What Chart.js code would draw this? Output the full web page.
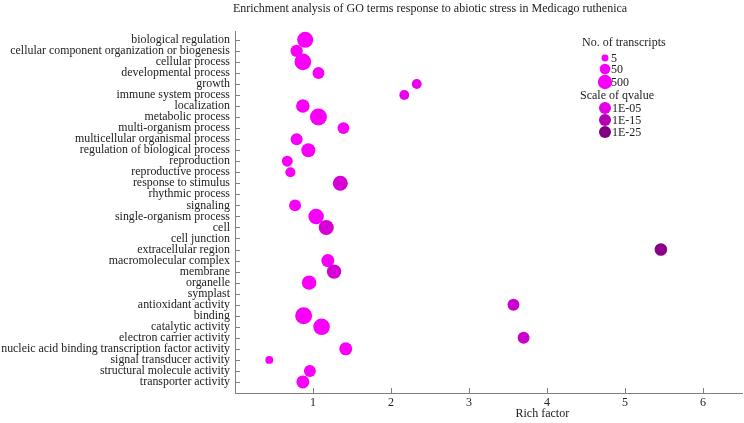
<!DOCTYPE html>
<html>
<head>
<meta charset="utf-8">
<script src="https://cdn.jsdelivr.net/npm/chart.js@4"></script>
<style>
  html, body { margin: 0; padding: 0; background: #fff; }
  #wrap { width: 744px; height: 423px; }
</style>
</head>
<body>
<div id="wrap"><canvas id="chart" width="744" height="423"></canvas></div>
<script>
'use strict';

// GO terms, top to bottom
const CATEGORIES = [
  'biological regulation', 'cellular component organization or biogenesis', 'cellular process',
  'developmental process', 'growth', 'immune system process', 'localization', 'metabolic process',
  'multi-organism process', 'multicellular organismal process', 'regulation of biological process',
  'reproduction', 'reproductive process', 'response to stimulus', 'rhythmic process', 'signaling',
  'single-organism process', 'cell', 'cell junction', 'extracellular region', 'macromolecular complex',
  'membrane', 'organelle', 'symplast', 'antioxidant activity', 'binding', 'catalytic activity',
  'electron carrier activity', 'nucleic acid binding transcription factor activity',
  'signal transducer activity', 'structural molecule activity', 'transporter activity',
];

// null = term has no point
const RICH_FACTOR = [
  0.90, 0.79, 0.87, 1.07, 2.33, 2.17, 0.87, 1.07,
  1.39, 0.79, 0.94, 0.67, 0.71, 1.35, null, 0.77,
  1.04, 1.17, null, 5.46, 1.19, 1.27, 0.95, null,
  3.57, 0.88, 1.11, 3.70, 1.42, 0.44, 0.96, 0.87,
];
const TRANSCRIPTS = [
  1400, 140, 2000, 110, 30, 30, 300, 2500,
  110, 110, 400, 60, 35, 750, null, 110,
  1000, 750, null, 160, 210, 500, 500, null,
  110, 2500, 2000, 110, 210, 9, 110, 210,
];
const QVALUE = [
  5e-2, 5e-2, 5e-2, 5e-2, 1e-4, 1e-4, 5e-2, 5e-2,
  5e-2, 5e-2, 5e-2, 5e-2, 5e-2, 1e-8, null, 5e-2,
  5e-2, 1e-8, null, 1e-23, 5e-2, 1e-8, 5e-2, null,
  1e-10, 5e-2, 5e-2, 1e-10, 5e-2, 5e-2, 5e-2, 5e-2,
];

const X_TICKS      = [1, 2, 3, 4, 5, 6];
const SIZE_LEGEND  = [5, 50, 500];
const Q_LEGEND     = [1e-5, 1e-15, 1e-25];
const Q_LEGEND_TXT = ['1E-05', '1E-15', '1E-25'];

const FONT      = '"Liberation Serif", "Times New Roman", serif';
const TEXT_CLR  = '#222';
const AXIS_CLR  = '#808080';

function sizeOf(n) { return 2.2 + 1.85 * Math.log10(n); }
function colorOf(q) {
  const t = Math.min(1, -Math.log10(q) / 25);
  const c = Math.round(255 - 127 * t);
  return `rgb(${c},0,${c})`;
}

const points = [];
CATEGORIES.forEach((_, i) => {
  if (RICH_FACTOR[i] == null) return;
  points.push({ x: RICH_FACTOR[i], y: i + 1, n: TRANSCRIPTS[i], q: QVALUE[i] });
});

// inside tick marks, title, axis title and the legend
const decorations = {
  id: 'decorations',
  afterDraw(chart) {
    const { ctx, chartArea, scales: { x, y } } = chart;
    ctx.save();
    ctx.strokeStyle = AXIS_CLR;
    ctx.lineWidth = 1;
    ctx.beginPath();
    y.ticks.forEach(t => {
      const py = Math.round(y.getPixelForValue(t.value)) + 0.5;
      ctx.moveTo(chartArea.left, py);
      ctx.lineTo(chartArea.left + 5, py);
    });
    x.ticks.forEach(t => {
      const px = Math.round(x.getPixelForValue(t.value)) + 0.5;
      ctx.moveTo(px, chartArea.bottom);
      ctx.lineTo(px, chartArea.bottom - 5);
    });
    ctx.stroke();

    ctx.fillStyle = TEXT_CLR;
    ctx.font = `12px ${FONT}`;
    ctx.textBaseline = 'middle';
    ctx.textAlign = 'center';
    ctx.fillText('Enrichment analysis of GO terms response to abiotic stress in Medicago ruthenica', 430, 9);
    ctx.fillText('Rich factor', x.getPixelForValue(3.94), 414);

    // legend
    ctx.textAlign = 'left';
    ctx.fillText('No. of transcripts', 582, 43);
    const sizeY = [58, 69, 82];
    SIZE_LEGEND.forEach((n, i) => {
      ctx.fillStyle = colorOf(5e-2);
      ctx.beginPath();
      ctx.arc(605, sizeY[i], sizeOf(n), 0, Math.PI * 2);
      ctx.fill();
      ctx.fillStyle = TEXT_CLR;
      ctx.fillText(String(n), 611, sizeY[i] + 1);
    });
    ctx.fillText('Scale of qvalue', 580, 96);
    const qY = [108, 120, 132];
    Q_LEGEND.forEach((q, i) => {
      ctx.fillStyle = colorOf(q);
      ctx.beginPath();
      ctx.arc(605, qY[i], 6, 0, Math.PI * 2);
      ctx.fill();
      ctx.fillStyle = TEXT_CLR;
      ctx.fillText(Q_LEGEND_TXT[i], 612, qY[i] + 1);
    });
    ctx.restore();
  },
};

new Chart(document.getElementById('chart'), {
  type: 'scatter',
  data: {
    datasets: [{
      data: points,
      pointRadius: ctx => sizeOf(ctx.raw.n),
      pointHoverRadius: ctx => sizeOf(ctx.raw.n),
      pointBackgroundColor: ctx => colorOf(ctx.raw.q),
      pointBorderWidth: 0,
      pointBorderColor: 'rgba(0,0,0,0)',
    }],
  },
  options: {
    responsive: false,
    animation: false,
    layout: { autoPadding: false, padding: { top: 31, right: 2, left: 0, bottom: 0 } },
    plugins: { legend: { display: false }, tooltip: { enabled: false } },
    scales: {
      x: {
        type: 'linear',
        min: 0,
        max: 6.5,
        afterBuildTicks: s => { s.ticks = X_TICKS.map(v => ({ value: v })); },
        afterFit: s => { s.height = 30; s.paddingLeft = 0; s.paddingRight = 0; },
        grid: { display: false, drawTicks: false },
        border: { display: true, color: AXIS_CLR, width: 1 },
        ticks: { color: TEXT_CLR, font: { family: FONT, size: 12 }, padding: 3, maxRotation: 0 },
      },
      y: {
        type: 'linear',
        reverse: true,
        min: 0.2,
        max: 33,
        afterBuildTicks: s => { s.ticks = CATEGORIES.map((_, i) => ({ value: i + 1 })); },
        afterFit: s => { s.width = 235; s.paddingTop = 0; s.paddingBottom = 0; },
        grid: { display: false, drawTicks: false },
        border: { display: true, color: AXIS_CLR, width: 1 },
        ticks: {
          color: TEXT_CLR,
          font: { family: FONT, size: 11.9 },
          padding: 5,
          autoSkip: false,
          callback: v => CATEGORIES[v - 1],
        },
      },
    },
  },
  plugins: [decorations],
});
</script>
</body>
</html>
